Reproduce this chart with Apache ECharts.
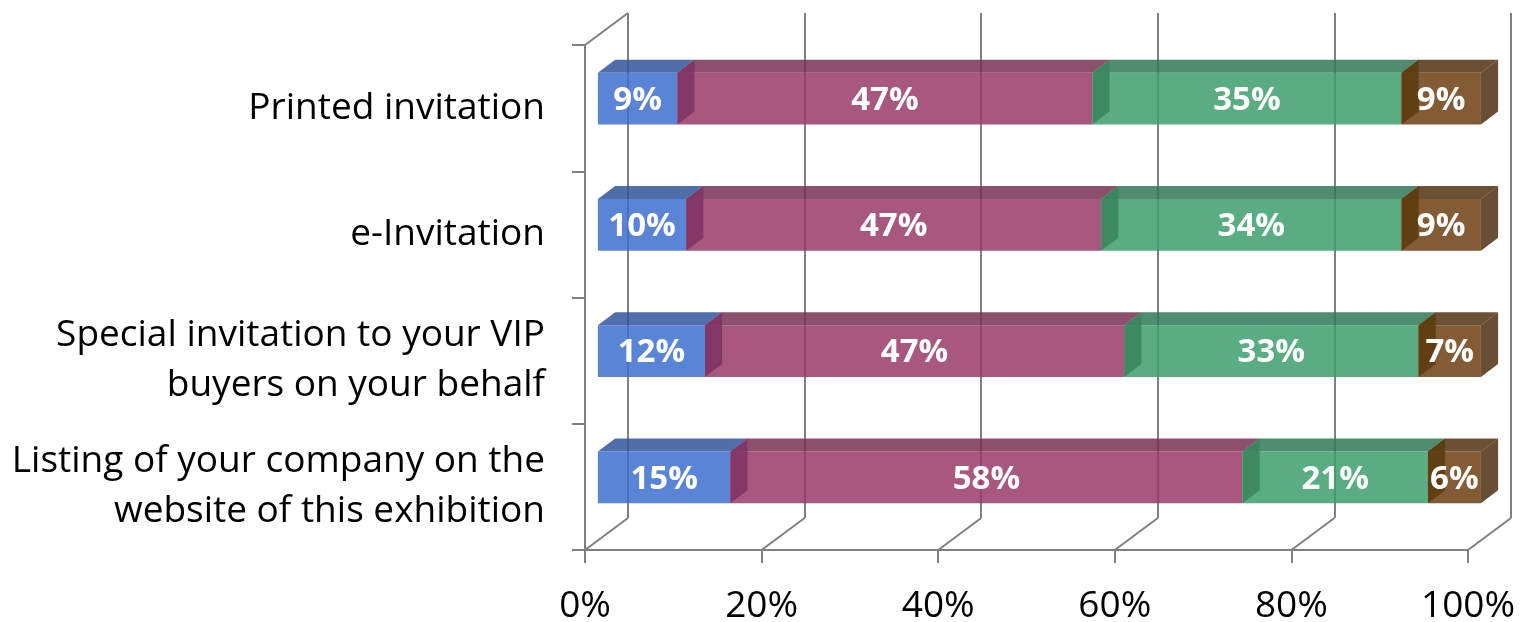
<!DOCTYPE html>
<html>
<head>
<meta charset="utf-8">
<script src="https://cdn.jsdelivr.net/npm/echarts@6/dist/echarts.min.js"></script>
<style>
  html, body { margin: 0; padding: 0; background: #ffffff; }
  #chart { width: 1520px; height: 622px; }
</style>
</head>
<body>
<div id="chart"></div>
<script>
// ---- data ----
const categories = [
  'Printed invitation',
  'e-Invitation',
  'Special invitation to your VIP\nbuyers on your behalf',
  'Listing of your company on the\nwebsite of this exhibition'
];
const series1 = [9, 10, 12, 15];
const series2 = [47, 47, 47, 58];
const series3 = [35, 34, 33, 21];
const series4 = [9, 9, 7, 6];
const axisTicks = [0, 20, 40, 60, 80, 100];

// ---- geometry / style ----
const FONT = '"Open Sans", "Liberation Sans", sans-serif';
const GRID = { left: 585, top: 45, right: 52, bottom: 72 };
const DEPTH = { dx: 43, dy: -32 };          // wall depth (front plane -> back plane)
const BAR_FRONT = 0.3, BAR_BACK = 0.7;      // bar box position within the depth
const BAR_RATIO = 0.41;                     // bar thickness relative to category band
const FACE_OPACITY = 0.85;
const WALL_COLOR = '#808080';

const palette = [
  { front: 'rgb(61,111,206)', top: 'rgb(49,86,155)',  side: 'rgb(40,80,170)',  right: 'rgb(40,70,140)' },
  { front: 'rgb(153,59,103)', top: 'rgb(120,49,82)',  side: 'rgb(126,50,100)', right: 'rgb(110,30,80)' },
  { front: 'rgb(61,159,108)', top: 'rgb(49,120,87)',  side: 'rgb(57,132,92)',  right: 'rgb(40,110,75)' },
  { front: 'rgb(109,62,16)',  top: 'rgb(82,49,16)',   side: 'rgb(90,59,14)',   right: 'rgb(77,47,16)' }
];

const seriesValues = [series1, series2, series3, series4];

// 100% stacking: each row is normalised to its total
const rowTotals = categories.map((_, i) => seriesValues.reduce((s, arr) => s + arr[i], 0));
function segmentData(k) {
  return categories.map((_, i) => {
    let start = 0;
    for (let j = 0; j < k; j++) start += seriesValues[j][i] / rowTotals[i] * 100;
    const end = start + seriesValues[k][i] / rowTotals[i] * 100;
    return [i, start, end, seriesValues[k][i]];
  });
}

function faceStyle(fill) {
  return { fill: fill, opacity: FACE_OPACITY };
}

function renderSegment(k) {
  const col = palette[k];
  const isFirst = k === 0, isLast = k === seriesValues.length - 1;
  return function (params, api) {
    const cat = api.value(0), s = api.value(1), e = api.value(2), v = api.value(3);
    const p0 = api.coord([s, cat]);
    const p1 = api.coord([e, cat]);
    const band = api.size([0, 1])[1];
    const h = band * BAR_RATIO;
    const fx = DEPTH.dx * BAR_FRONT, fy = DEPTH.dy * BAR_FRONT;
    const bx = DEPTH.dx * (BAR_BACK - BAR_FRONT), by = DEPTH.dy * (BAR_BACK - BAR_FRONT);
    const x0 = p0[0] + fx, x1 = p1[0] + fx, yc = p0[1] + fy;
    const yT = yc - h / 2, yB = yc + h / 2;
    const children = [
      { type: 'polygon', shape: { points: [[x0, yT], [x1, yT], [x1 + bx, yT + by], [x0 + bx, yT + by]] }, style: faceStyle(col.top) },
      { type: 'rect', shape: { x: x0, y: yT, width: x1 - x0, height: h }, style: faceStyle(col.front) }
    ];
    if (!isFirst) {
      children.push({ type: 'polygon', shape: { points: [[x0, yT], [x0 + bx, yT + by], [x0 + bx, yB + by], [x0, yB]] }, style: faceStyle(col.side) });
    }
    if (isLast) {
      children.push({ type: 'polygon', shape: { points: [[x1, yT], [x1 + bx, yT + by], [x1 + bx, yB + by], [x1, yB]] }, style: faceStyle(col.right) });
    }
    children.push({
      type: 'text',
      style: {
        text: v + '%', x: (x0 + x1) / 2, y: yc + 2,
        align: 'center', verticalAlign: 'middle',
        fill: '#ffffff', fontSize: 33, fontWeight: 'bold', fontFamily: FONT
      },
      z2: 10
    });
    return { type: 'group', children: children };
  };
}

// floor diagonals at every tick, plus the top edge of the left wall
function renderWall(params, api) {
  const cs = params.coordSys;
  const x = api.coord([api.value(0), 0])[0];
  const yBottom = cs.y + cs.height;
  const lineStyle = { stroke: WALL_COLOR, lineWidth: 2 };
  const children = [
    { type: 'line', shape: { x1: x, y1: yBottom, x2: x + DEPTH.dx, y2: yBottom + DEPTH.dy }, style: lineStyle }
  ];
  if (params.dataIndex === 0) {
    children.push({ type: 'line', shape: { x1: x, y1: cs.y, x2: x + DEPTH.dx, y2: cs.y + DEPTH.dy }, style: lineStyle });
  }
  return { type: 'group', children: children };
}

const chart = echarts.init(document.getElementById('chart'), null, { renderer: 'canvas' });

const barSeries = seriesValues.map((_, k) => ({
  type: 'custom',
  name: 'Series ' + (k + 1),
  xAxisIndex: 0, yAxisIndex: 0,
  renderItem: renderSegment(k),
  data: segmentData(k),
  silent: true,
  z: 3
}));

chart.setOption({
  backgroundColor: '#ffffff',
  animation: false,
  grid: [
    { left: GRID.left, top: GRID.top, right: GRID.right, bottom: GRID.bottom, containLabel: false, outerBoundsMode: 'none' },
    // back wall plane
    { left: GRID.left + DEPTH.dx, top: GRID.top + DEPTH.dy, right: GRID.right - DEPTH.dx, bottom: GRID.bottom - DEPTH.dy, containLabel: false, outerBoundsMode: 'none' }
  ],
  xAxis: [
    {
      type: 'value', gridIndex: 0, min: 0, max: 100, interval: 20,
      axisLine: { show: true, lineStyle: { color: WALL_COLOR, width: 2 } },
      axisTick: { show: true, length: 13, lineStyle: { color: WALL_COLOR, width: 2 } },
      splitLine: { show: false },
      axisLabel: { formatter: '{value}%', color: '#000000', fontSize: 37, fontFamily: FONT, margin: 38 }
    },
    {
      type: 'value', gridIndex: 1, min: 0, max: 100, interval: 20,
      axisLine: { show: false }, axisTick: { show: false }, axisLabel: { show: false },
      splitLine: { show: true, lineStyle: { color: WALL_COLOR, width: 2 } }
    }
  ],
  yAxis: [
    {
      type: 'category', gridIndex: 0, data: categories, inverse: true,
      axisLine: { show: true, lineStyle: { color: WALL_COLOR, width: 2 } },
      axisTick: { show: true, length: 13, lineStyle: { color: WALL_COLOR, width: 2 } },
      splitLine: { show: false },
      axisLabel: { color: '#000000', fontSize: 37, lineHeight: 50, fontFamily: FONT, margin: 40, align: 'right', padding: [14, 0, 0, 0] }
    },
    {
      type: 'category', gridIndex: 1, data: categories, inverse: true,
      axisLine: { show: false }, axisTick: { show: false }, axisLabel: { show: false }, splitLine: { show: false }
    }
  ],
  series: [
    {
      type: 'custom', name: 'wall',
      xAxisIndex: 0, yAxisIndex: 0,
      renderItem: renderWall,
      data: axisTicks.map(v => [v, 0]),
      silent: true,
      z: 1
    }
  ].concat(barSeries)
});
</script>
</body>
</html>
